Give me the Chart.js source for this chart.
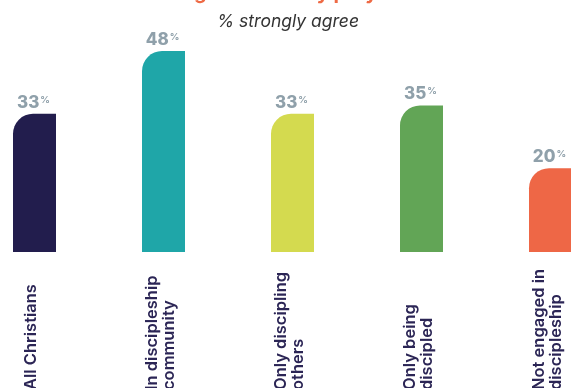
<!DOCTYPE html>
<html><head><meta charset="utf-8">
<script src="https://cdn.jsdelivr.net/npm/chart.js@4"></script>
<style>html,body{margin:0;padding:0;background:#fff;overflow:hidden}#wrap{width:571px;height:388px;position:relative}</style>
</head><body><div id="wrap"><canvas id="c" width="571" height="388"></canvas></div>
<script>
// ---- data ----
const categories = [["All Christians"], ["In discipleship", "community"], ["Only discipling", "others"], ["Only being", "discipled"], ["Not engaged in", "discipleship"]];
const values = [33, 48, 33, 35, 20];
const barColors = ['#221d4d', '#1fa6a8', '#d4da4f', '#62a556', '#ee6746'];
const valueSuffix = '%';
const titleText = 'Being bold in daily prayer';
const subtitleText = '% strongly agree';

const FONT = 'Inter, "Open Sans", sans-serif';

const labelPlugin = {
  id: 'labels',
  afterDraw(chart) {
    const ctx = chart.ctx;
    const meta = chart.getDatasetMeta(0);
    ctx.save();
    // title (cropped at top)
    ctx.fillStyle = '#ee6a45';
    ctx.font = 'bold 20px ' + FONT;
    ctx.textAlign = 'center';
    ctx.textBaseline = 'alphabetic';
    ctx.fillText(titleText, 274, -1);
    // subtitle
    ctx.fillStyle = '#333333';
    ctx.font = 'italic 17.5px ' + FONT;
    ctx.fillText(subtitleText, 288, 27);
    // value labels
    meta.data.forEach((el, i) => {
      const num = String(values[i]);
      ctx.font = '800 17px ' + FONT;
      const w1 = ctx.measureText(num).width;
      ctx.font = '700 9.5px ' + FONT;
      const w2 = ctx.measureText(valueSuffix).width;
      const total = w1 + 1 + w2;
      const sx = el.x - 1 - total / 2;
      const base = el.y - 6;
      ctx.fillStyle = '#8fa0aa';
      ctx.textAlign = 'left';
      ctx.font = '800 17px ' + FONT;
      ctx.fillText(num, sx, base);
      ctx.font = '700 9.5px ' + FONT;
      ctx.fillText(valueSuffix, sx + w1 + 1, base - 5);
    });
    // category labels (rotated)
    ctx.fillStyle = '#2b2555';
    ctx.font = '600 16.5px ' + FONT;
    meta.data.forEach((el, i) => {
      const lines = categories[i];
      const n = lines.length;
      ctx.save();
      ctx.translate(el.x - 3, 390);
      ctx.rotate(-Math.PI / 2);
      ctx.textAlign = 'left';
      ctx.textBaseline = 'middle';
      lines.forEach((ln, j) => {
        ctx.fillText(ln, 0, (j - (n - 1) / 2) * 17);
      });
      ctx.restore();
    });
    ctx.restore();
  }
};

new Chart(document.getElementById('c'), {
  type: 'bar',
  data: {
    labels: categories.map(c => c.join(' ')),
    datasets: [{
      data: values,
      backgroundColor: barColors,
      borderRadius: { topLeft: 20, topRight: 0, bottomLeft: 0, bottomRight: 0 },
      borderSkipped: false,
      categoryPercentage: 1,
      barPercentage: 43 / 129,
      clip: false
    }]
  },
  options: {
    responsive: false,
    animation: false,
    devicePixelRatio: 1,
    layout: { padding: { left: 34.5, right: 20.5, top: 0.8, bottom: 136 } },
    scales: {
      x: { display: false, offset: false },
      y: { display: false, min: 0, max: 60 }
    },
    plugins: { legend: { display: false }, tooltip: { enabled: false }, title: { display: false } }
  },
  plugins: [labelPlugin]
});
</script></body></html>
